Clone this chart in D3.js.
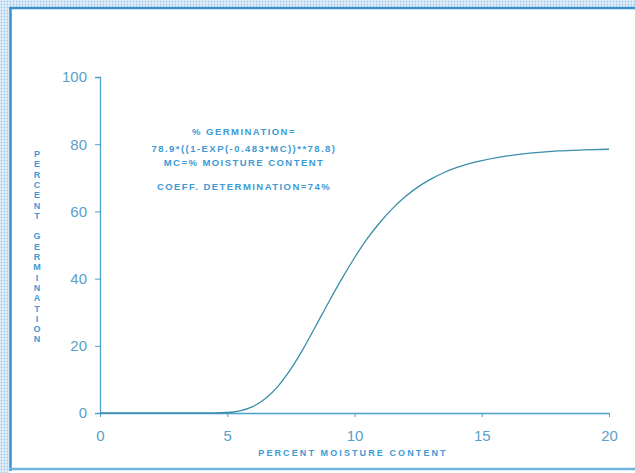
<!DOCTYPE html>
<html>
<head>
<meta charset="utf-8">
<script src="https://cdn.jsdelivr.net/npm/d3@7"></script>
<style>
  body { margin: 0; background: #fff; }
  svg { display: block; }
</style>
</head>
<body>
<div id="chart"></div>
<script>
// data (MC %, germination %)
const moisture = [0, 1, 2, 3, 4, 5, 5.5, 6, 6.5, 7, 7.5, 8, 8.5, 9, 9.5, 10, 10.5, 11, 11.5, 12, 12.5, 13, 13.5, 14, 14.5, 15, 16, 17, 18, 19, 20];
const germination = [0, 0, 0, 0, 0, 0.15, 0.65, 1.9, 4.3, 8.0, 13.1, 19.3, 26.2, 33.2, 39.9, 46.2, 51.9, 56.7, 60.9, 64.4, 67.3, 69.6, 71.5, 73.0, 74.2, 75.1, 76.5, 77.4, 78.0, 78.3, 78.5];
const xTicks = [0, 5, 10, 15, 20];
const yTicks = [0, 20, 40, 60, 80, 100];
const noteLines = [
  "% GERMINATION=",
  "78.9*((1-EXP(-0.483*MC))**78.8)",
  "MC=% MOISTURE CONTENT",
  "COEFF. DETERMINATION=74%"
];

const width = 635, height = 473;
const blue = "#3d9ad4";
const axisBlue = "#4e9fca";

const svg = d3.select("#chart").append("svg")
  .attr("width", width)
  .attr("height", height);

// scan frame: dotted strip + blue border
const defs = svg.append("defs");
const pat = defs.append("pattern")
  .attr("id", "dots")
  .attr("width", 3).attr("height", 3)
  .attr("patternUnits", "userSpaceOnUse");
pat.append("rect").attr("width", 3).attr("height", 3).attr("fill", "#e6f1fa");
pat.append("circle").attr("cx", 1.5).attr("cy", 1.5).attr("r", 0.9).attr("fill", "#9cc8ea");

svg.append("rect").attr("x", 0).attr("y", 0).attr("width", width).attr("height", 7).attr("fill", "url(#dots)");
svg.append("rect").attr("x", 0).attr("y", 0).attr("width", 9).attr("height", height).attr("fill", "url(#dots)");
svg.append("line").attr("x1", 9).attr("x2", width).attr("y1", 8).attr("y2", 8)
  .attr("stroke", "#3a90cc").attr("stroke-width", 2.5);
svg.append("line").attr("x1", 10.5).attr("x2", 10.5).attr("y1", 7).attr("y2", 471)
  .attr("stroke", "#3a90cc").attr("stroke-width", 2.5);
svg.append("line").attr("x1", 10).attr("x2", width).attr("y1", 469).attr("y2", 469)
  .attr("stroke", "#6fb3e0").attr("stroke-width", 2.5);

const x = d3.scaleLinear().domain([0, 20]).range([100, 609]);
const y = d3.scaleLinear().domain([0, 100]).range([413, 77]);

// y axis
const yAxis = svg.append("g")
  .attr("transform", "translate(" + x(0) + ",0)")
  .call(d3.axisLeft(y).tickValues(yTicks).tickSize(5).tickPadding(8));
yAxis.select(".domain").attr("stroke", axisBlue).attr("stroke-width", 1.3);
yAxis.selectAll(".tick line").attr("stroke", axisBlue);
yAxis.selectAll(".tick text")
  .attr("fill", "#5aa0c8")
  .style("font-family", "'Liberation Sans', Arial, sans-serif")
  .style("font-size", "15px");

// x axis
const xAxis = svg.append("g")
  .attr("transform", "translate(0," + y(0) + ")")
  .call(d3.axisBottom(x).tickValues(xTicks).tickSize(4).tickPadding(13).tickSizeOuter(0));
xAxis.select(".domain").attr("stroke", axisBlue).attr("stroke-width", 1.3);
xAxis.selectAll(".tick line").attr("stroke", axisBlue);
xAxis.selectAll(".tick text")
  .attr("fill", "#5aa0c8")
  .style("font-family", "'Liberation Sans', Arial, sans-serif")
  .style("font-size", "15px");

// x axis title
svg.append("text")
  .attr("x", 353)
  .attr("y", 456)
  .attr("text-anchor", "middle")
  .attr("fill", blue)
  .style("font-family", "'Liberation Sans', Arial, sans-serif")
  .style("font-size", "9px")
  .style("font-weight", "bold")
  .style("letter-spacing", "2.1px")
  .text("PERCENT MOISTURE CONTENT");

// y axis title, stacked letters
const yTitle = "PERCENT GERMINATION".split("");
svg.append("g").selectAll("text")
  .data(yTitle)
  .enter()
  .append("text")
  .attr("x", 37)
  .attr("y", (d, i) => 157 + i * 10.3)
  .attr("text-anchor", "middle")
  .attr("fill", blue)
  .style("font-family", "'Liberation Sans', Arial, sans-serif")
  .style("font-size", "9px")
  .style("font-weight", "bold")
  .text(d => d);

// fitted curve
const pts = moisture.map((m, i) => [m, germination[i]]);
const line = d3.line()
  .x(d => x(d[0]))
  .y(d => y(d[1]))
  .curve(d3.curveMonotoneX);
svg.append("path")
  .datum(pts)
  .attr("d", line)
  .attr("fill", "none")
  .attr("stroke", "#3a8eaa")
  .attr("stroke-width", 1.3);

// equation note
const noteY = [135, 152, 166, 190];
svg.append("g").selectAll("text")
  .data(noteLines)
  .enter()
  .append("text")
  .attr("x", 244)
  .attr("y", (d, i) => noteY[i])
  .attr("text-anchor", "middle")
  .attr("fill", blue)
  .style("font-family", "'Liberation Sans', Arial, sans-serif")
  .style("font-size", "9.5px")
  .style("font-weight", "bold")
  .style("letter-spacing", "1.45px")
  .text(d => d);
</script>
</body>
</html>
